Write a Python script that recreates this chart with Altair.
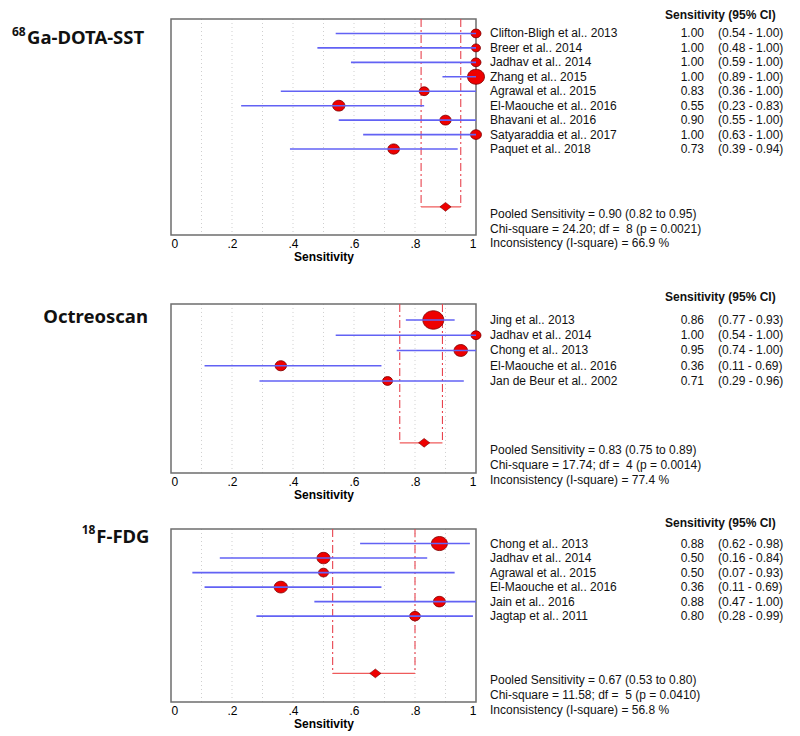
import altair as alt
import pandas as pd

# ---------------- data ----------------
GA_STUDIES = ["Clifton-Bligh et al.. 2013", "Breer et al.. 2014", "Jadhav et al.. 2014",
              "Zhang et al.. 2015", "Agrawal et al.. 2015", "El-Maouche et al.. 2016",
              "Bhavani et al.. 2016", "Satyaraddia et al.. 2017", "Paquet et al.. 2018"]
GA_SENS = [1.00, 1.00, 1.00, 1.00, 0.83, 0.55, 0.90, 1.00, 0.73]
GA_LO = [0.54, 0.48, 0.59, 0.89, 0.36, 0.23, 0.55, 0.63, 0.39]
GA_HI = [1.00, 1.00, 1.00, 1.00, 1.00, 0.83, 1.00, 1.00, 0.94]
GA_WEIGHT = [10, 9, 10, 17, 10, 12.3, 11.3, 11, 11.7]
GA_POOLED = [0.90, 0.82, 0.95]
GA_STATS = ["Pooled Sensitivity = 0.90 (0.82 to 0.95)",
            "Chi-square = 24.20; df =\u00a0 8 (p = 0.0021)",
            "Inconsistency (I-square) = 66.9 %"]

OC_STUDIES = ["Jing et al.. 2013", "Jadhav et al.. 2014", "Chong et al.. 2013",
              "El-Maouche et al.. 2016", "Jan de Beur et al.. 2002"]
OC_SENS = [0.86, 1.00, 0.95, 0.36, 0.71]
OC_LO = [0.77, 0.54, 0.74, 0.11, 0.29]
OC_HI = [0.93, 1.00, 1.00, 0.69, 0.96]
OC_WEIGHT = [21, 10, 13.5, 11.5, 10]
OC_POOLED = [0.83, 0.75, 0.89]
OC_STATS = ["Pooled Sensitivity = 0.83 (0.75 to 0.89)",
            "Chi-square = 17.74; df =\u00a0 4 (p = 0.0014)",
            "Inconsistency (I-square) = 77.4 %"]

FDG_STUDIES = ["Chong et al.. 2013", "Jadhav et al.. 2014", "Agrawal et al.. 2015",
               "El-Maouche et al.. 2016", "Jain et al.. 2016", "Jagtap et al.. 2011"]
FDG_SENS = [0.88, 0.50, 0.50, 0.36, 0.88, 0.80]
FDG_LO = [0.62, 0.16, 0.07, 0.11, 0.47, 0.28]
FDG_HI = [0.98, 0.84, 0.93, 0.69, 1.00, 0.99]
FDG_WEIGHT = [16, 13, 10, 13.3, 12, 10.7]
FDG_POOLED = [0.67, 0.53, 0.80]
FDG_STATS = ["Pooled Sensitivity = 0.67 (0.53 to 0.80)",
             "Chi-square = 11.58; df =\u00a0 5 (p = 0.0410)",
             "Inconsistency (I-square) = 56.8 %"]

AXIS_TICKS = [0, 0.2, 0.4, 0.6, 0.8, 1.0]
GRID_TICKS = [0.1, 0.2, 0.3, 0.4, 0.5, 0.6, 0.7, 0.8, 0.9]
HEADER = "Sensitivity (95% CI)"

# ---------------- styling ----------------
FONT = "Liberation Sans"
TITLE_FONT = "Noto Sans"
W = 305
BLUE = "#6262f4"
RED = "#ee0000"
DARK = "#7a0000"
ELLIPSE = "M-1,0A1,0.88 0 1,0 1,0A1,0.88 0 1,0 -1,0Z"
DIAMOND = "M-1,0L0,-0.78L1,0L0,0.78Z"

XAXIS = alt.Axis(
    values=AXIS_TICKS, title="Sensitivity", grid=False, domain=False, ticks=False,
    tickSize=0, labelPadding=3, titlePadding=2,
    labelExpr="datum.value == 0 ? '0' : datum.value == 1 ? '1' : replace(format(datum.value, '.1f'), '0.', '.')",
    labelFont=FONT, labelFontSize=12, labelColor="#000",
    titleFont=FONT, titleFontSize=12, titleFontWeight="bold", titleColor="#000")


def panel(studies, sens, lo, hi, weight, pooled, stats, titles,
          H, dom, box, prow, header_y, stats_y):
    df = pd.DataFrame({
        "study": studies, "sens": sens, "lo": lo, "hi": hi,
        "row": list(range(1, len(studies) + 1)),
    })
    df["size"] = [w * w for w in weight]
    df["est"] = [f"{v:.2f}" for v in sens]
    df["ci"] = [f"({a:.2f} - {b:.2f})" for a, b in zip(lo, hi)]
    pdf = pd.DataFrame({"est": [pooled[0]], "lo": [pooled[1]], "hi": [pooled[2]]})
    bdf = pd.DataFrame({"b": [pooled[1], pooled[2]]})
    gdf = pd.DataFrame({"g": GRID_TICKS})

    xs = alt.Scale(domain=[0, 1], nice=False, zero=False)
    ys = alt.Scale(domain=dom, reverse=True, nice=False, zero=False)
    ytop = alt.Y(datum=box[0], scale=ys, axis=None)
    ybot = alt.Y2(datum=box[1])

    base = alt.Chart(df)

    grid = alt.Chart(gdf).mark_rule(color="#cfcfcf", strokeDash=[1, 3], strokeWidth=1).encode(
        x=alt.X("g:Q", scale=xs, axis=XAXIS),
        y=ytop, y2=ybot)

    frame = alt.Chart(pdf).mark_rect(fillOpacity=0, stroke="#6e6e6e", strokeWidth=1.5).encode(
        x=alt.X(datum=0, scale=xs, axis=XAXIS), x2=alt.X2(datum=1),
        y=ytop, y2=ybot)

    vlines = alt.Chart(bdf).mark_rule(color="#e8444f", strokeDash=[8, 3, 2, 3], strokeWidth=1.1).encode(
        x=alt.X("b:Q", scale=xs, axis=XAXIS),
        y=ytop, y2=alt.Y2(datum=prow))

    bracket = alt.Chart(pdf).mark_rule(color="#ef5b5b", strokeWidth=1.2).encode(
        x=alt.X("lo:Q", scale=xs, axis=XAXIS), x2="hi:Q",
        y=alt.Y(datum=prow, scale=ys, axis=None))

    dots = base.mark_point(shape=ELLIPSE, filled=True, fill=RED, stroke=DARK,
                           strokeWidth=0.8, opacity=1).encode(
        x=alt.X("sens:Q", scale=xs, axis=XAXIS),
        y=alt.Y("row:Q", scale=ys, axis=None),
        size=alt.Size("size:Q", scale=None, legend=None))

    ci = base.mark_rule(color=BLUE, strokeWidth=1.6).encode(
        x=alt.X("lo:Q", scale=xs, axis=XAXIS), x2="hi:Q",
        y=alt.Y("row:Q", scale=ys, axis=None))

    diamond = alt.Chart(pdf).mark_point(shape=DIAMOND, filled=True, fill=RED, stroke=DARK,
                                        strokeWidth=0.6, size=125, opacity=1).encode(
        x=alt.X("est:Q", scale=xs, axis=XAXIS),
        y=alt.Y(datum=prow, scale=ys, axis=None))

    tx = dict(font=FONT, fontSize=12, color="#111", baseline="middle")
    names = base.mark_text(align="left", **tx).encode(
        x=alt.value(319), y=alt.Y("row:Q", scale=ys, axis=None), text="study:N")
    ests = base.mark_text(align="right", **tx).encode(
        x=alt.value(533), y=alt.Y("row:Q", scale=ys, axis=None), text="est:N")
    cis = base.mark_text(align="left", **tx).encode(
        x=alt.value(547), y=alt.Y("row:Q", scale=ys, axis=None), text="ci:N")

    header = alt.Chart(pdf).mark_text(align="left", font=FONT, fontSize=12, fontWeight="bold",
                                      color="#111", baseline="middle", text=HEADER).encode(
        x=alt.value(494), y=alt.value(header_y))

    layers = [grid, frame, vlines, bracket, dots, ci, diamond, names, ests, cis, header]
    for line, yy in zip(stats, stats_y):
        layers.append(alt.Chart(pdf).mark_text(align="left", text=line, **tx).encode(
            x=alt.value(319), y=alt.value(yy)))
    for t, xx, yy, fs in titles:
        layers.append(alt.Chart(pdf).mark_text(align="left", baseline="alphabetic", text=t,
                                               font=TITLE_FONT, fontSize=fs, fontWeight="bold",
                                               color="#111").encode(
            x=alt.value(xx), y=alt.value(yy)))
    return alt.layer(*layers).properties(width=W, height=H)


p1 = panel(GA_STUDIES, GA_SENS, GA_LO, GA_HI, GA_WEIGHT, GA_POOLED, GA_STATS,
           [("68", -159, 16.7, 12), ("Ga-DOTA-SST", -144, 24.7, 18.5)],
           H=216, dom=[0, 14.95], box=[0, 14.95], prow=13.0, header_y=-4,
           stats_y=[195.3, 210.3, 223.7])
p2 = panel(OC_STUDIES, OC_SENS, OC_LO, OC_HI, OC_WEIGHT, OC_POOLED, OC_STATS,
           [("Octreoscan", -127.7, 31.7, 18.5)],
           H=182, dom=[-0.9, 11.03], box=[-0.05, 11.03], prow=9.05, header_y=5.7,
           stats_y=[159, 174.3, 189])
p3 = panel(FDG_STUDIES, FDG_SENS, FDG_LO, FDG_HI, FDG_WEIGHT, FDG_POOLED, FDG_STATS,
           [("18", -89.3, 5.3, 12), ("F-FDG", -74.7, 14, 18.5)],
           H=173, dom=[0, 11.91], box=[0, 11.91], prow=9.94, header_y=-6.3,
           stats_y=[151.3, 166, 180.7])

chart = alt.vconcat(p1, p2, p3, spacing=56, bounds="flush").resolve_scale(
    x="independent", y="independent"
).properties(
    padding={"left": 3, "top": 0, "right": 5, "bottom": 5}
).configure_view(stroke="transparent")

chart.save("out.html", embed_options={"renderer": "svg", "actions": False})
